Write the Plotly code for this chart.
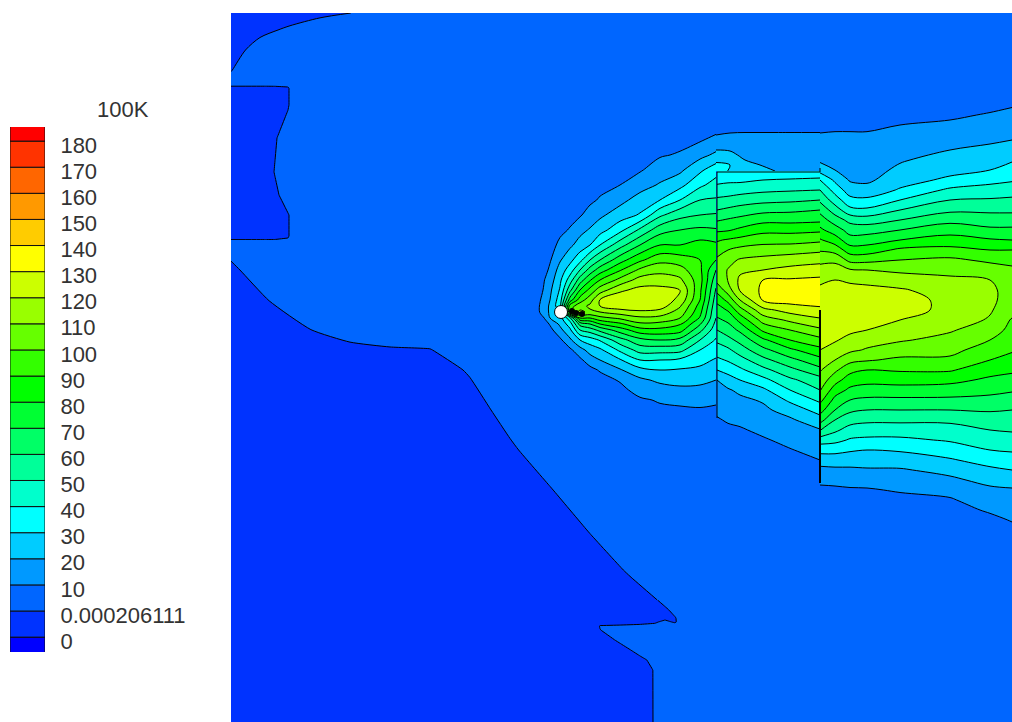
import numpy as np
import plotly.graph_objects as go

# Legend
band_floor = [-20,-10,0,10,20,30,40,50,60,70,80,90,100,110,120,130,140,150,160,170,180]
band_colors = ["#0000ff","#0033ff","#0066ff","#0099ff","#00ccff","#00ffff","#00ffcc","#00ff99","#00ff66","#00ff33",
               "#00ff00","#33ff00","#66ff00","#99ff00","#ccff00","#ffff00","#ffcc00","#ff9900","#ff6600","#ff3300","#ff0000"]
legend_levels = [-10,0,10,20,30,40,50,60,70,80,90,100,110,120,130,140,150,160,170,180]
legend_labels = ["0","0.000206111","10","20","30","40","50","60","70","80","90","100","110","120","130","140","150","160","170","180"]

# Dark corner, upper left (z = display level; 0 stands for the 0.000206111 contour)
corner_x = [231,260,290,320,350,370]
corner_y = [13,30,50,70,80]
corner_z = [[-9,-4.2,-3,-1.2,-0.1,2.5],
            [-6,-1.5,1,3,4.2,5],
            [-2.5,2.5,5.5,7.5,9,9],
            [-0.3,6,9,9,9,9],
            [1.5,9,9,9,9,9]]

# Dark block on the left edge
block_x = [231,265,275,288,290,300]
block_y = [80,86,88,105,138,172,195,215,236,240]
block_z = [[5,5,5,5,5,5],
           [1,1,1,1,5,5],
           [-9,-9,-6,-1,1,5],
           [-9,-9,-6,-1,1,5],
           [-9,-6,-1,5.5,6.5,9],
           [-9,-4.5,0.5,7,8,9],
           [-9,-7,-2,4.5,5.5,9],
           [-9,-9,-7,-0.5,0.5,5.5],
           [-9,-9,-7,-1,1,5],
           [1,1,1,1,1,5]]

# Dark lower-left region
low_x = [231,270,310,350,390,430,470,510,550,590,630,670,710]
low_y = [245,270,300,330,350,370,410,450,490,530,570,600]
low_z = [[2,8,9,9,9,9,9,9,9,9,9,9,9],
         [-1.1,3.7,9,9,9,9,9,9,9,9,9,9,9],
         [-4.3,0.2,4.2,6.7,7.8,8.2,9,9,9,9,9,9,9],
         [-9,-3.6,-0.1,2,2.8,3.2,6,9,9,9,9,9,9],
         [-9,-7,-3.2,-1.3,-0.5,-0.2,3,8,9,9,9,9,9],
         [-9,-9,-6.5,-4.7,-3.8,-3.3,0.7,6.2,9,9,9,9,9],
         [-9,-9,-9,-9,-9,-9,-3,2.7,8.3,9,9,9,9],
         [-9,-9,-9,-9,-9,-9,-6.5,-1.1,4,9,9,9,9],
         [-9,-9,-9,-9,-9,-9,-9,-5.4,-0.4,4.7,9,9,9],
         [-9,-9,-9,-9,-9,-9,-9,-9,-4.7,0.4,5.3,9,9],
         [-9,-9,-9,-9,-9,-9,-9,-9,-9,-4,0.8,5.2,9],
         [-9,-9,-9,-9,-9,-9,-9,-9,-9,-8.5,-3,1.4,7]]

# Bottom spike
spike_x = [231,590,600,620,640,655,665,675,685,710]
spike_y = [600,610,618,622,626,630,640,650,660,670,722]
spike_z = [[-9,-9,-9,-9,-6.5,-1,3,7,9,9],
           [-9,-9,-9,-9,-9,-6,-1.6,2.5,6,9],
           [-9,-5,-3.5,-3.5,-3.5,-1.5,-1,-0.5,4.5,9],
           [-9,-3,-1.7,-1.7,-1.5,-0.5,1,-0.5,3.5,9],
           [-9,-3,0.2,0.5,1,1,2,2,5,9],
           [-9,-4,-0.1,2.5,2.5,5,5,5,5,9],
           [-9,-8,-4,1.4,6,9,9,9,9,9],
           [-9,-9,-8,-2.9,2.5,9,9,9,9,9],
           [-9,-9,-9,-7,-1.7,2,6,9,9,9],
           [-9,-9,-9,-9,-6,1,6,9,9,9],
           [-9,-9,-9,-9,-6.5,1,6,9,9,9]]

# Left plume lobe, listed by column
left_x = [530,540,545,550,560,570,580,590,600,620,640,660,680,700,716]
left_y = [125,140,155,170,185,200,215,230,245,260,270,280,290,300,306,312,318,324,330,340,350,360,370,380,390,400,410,420]
left_cols = [
 [1,1,1,1,1,1,1,1,1,1,1,1,1,2,2,2,1,1,1,1,1,1,1,1,1,1,1,1],
 [1,1,1,1,1,1,1,1,1,1,3,5,7,9.5,10.5,10.5,5,2,1,1,1,1,1,1,1,1,1,1],
 [1,1,1,1,1,1,1,1,1,4,7,10.5,12,14,15,15,11,6,4,2,1,1,1,1,1,1,1,1],
 [1,1,1,1,1,1,1,1,5,9,12,15,18,20,22,22,20,11,7,4,2,1,1,1,1,1,1,1],
 [1,1,1,1,1,1,3,7,13,19,24,28,31,35,36,30,26,22,17,8,4,2,1,1,1,1,1,1],
 [1,1,1,1,1,3,6,11,18,27,35,45,57,75,95,100,47,35,28,18,8,4,2,2,1,1,1,1],
 [1,1,1,1,2,5,9,17,24,37,50,65,80,95,106,112,90,64,50,30,16,8,4,3,2,1,1,1],
 [1,1,1,2,5,8,14,21,30,50,64,79,93,106,112,108,90,70,55,35,24,15,7,4,3,2,1,1],
 [1,1,2,4,7,11,18,26,40,60,75,90,105,120.5,120,110,97,80,63,41,28,20,11,6,4,3,2,1],
 [1,2,4,6,10,17,25,37,56,76,89,103,118,127,126,115,102,88,75,56,42,29,19,11,7,5,3,2],
 [2,4,6,9,16,24,31,52,70,88,102,114,123,128,127,118,108,98,86,67,54,40,27,18,14,8.5,6,4],
 [2,5,9,15,21,30,48,66,80,97,107,115,123,127,125,116,107,97,87,70,54,40,30,22,16,11,8,6],
 [3,7,11,18,27,40,57,70,80,95,104,112,120.5,117,111,106,100,91,84,67,53,38,29,23,18,13,8,6],
 [3,9,17,28,38,50,60,72,84,90,92,94,92,90,86,83,79,71,63,50,40,33,28,22,18,13,9,6],
 [5,13,22,36,44,51,61,71,82,80,70,64,59,55,53,51,50,47,44,39,34,29,25,20,16,12,8,6]]

# Strip above the middle block
top_x = [716,730,745,760,775,790,820]
top_y = [125,135,145,155,165,171]
top_cols = [
 [5,10,16,24,32,35],
 [6,11,17,22,30,29],
 [7,11,15,18,22,24],
 [7,11,14,17,20,22],
 [7,11,13,15,18,20],
 [7,11,13,15,17,18],
 [7,11,13,15,18,20]]

# Middle block
mid_x = [717,728,740,763,790,820]
mid_y = [171,180,190,200,210,220,230,240,250,260,270,280,290,300,310,320,330,340,350,360,370,380,390,400,410,420,430,440,450,460,470]
mid_cols = [
 [32,37,44,52,60,69,78,89,95,102,105,103,93,83,75,68,60,52,45,38,30,20,19,15,12,9,7,6,5,4,3],
 [33,38,45,53,62,71,79,91,100,107,110.5,110.5,105,93,81,72,65,57,48,41,34,25,19,16,13,11,8,6,5,4,3],
 [32,38,46,55,64,73,82,93,103,111,118,122,121,110,96,83,72,63,55,46,38,30,22,18,15,12,9,7,5,4,3],
 [33,40,48,57,67,77,87,96,105,113,120,130,132,131,117,104,92,78,67,57,47,37,28,21,18,15,12,9,7,5,4],
 [32,41,49,58,68,77,87,96,106,115,123,131,135,134,124,112,100,90,78,67,57,48,40,32,24,18.5,15.5,12.4,9.5,7,5],
 [33,42,50,60,70,78,88,98,108,117,125,132,135,134,128,118,108,97,87,77,67,56,50,42,34,26,19.4,15,13,10,8]]

# Right block
right_x = [820,835,850,867,900,950,990,1012]
right_y = [100,115,125,135,150,160,170,180,190,200,210,220,230,240,250,260,270,280,290,300,310,320,330,340,350,360,370,380,390,400,410,420,430,440,450,460,470,480,490,500,510,520,530]
right_cols = [
 [3,6,8,10.5,15,18,26,40,50,58,67,75,82,91,99,107,114,118,122,125,127,127,125,123,120,115,111,106,101,93,84,74,61,45,33,25,17,12,8,6,4,3,2],
 [4,6,8,11,14,17,20,28,36,45,55,65,75,85,96,108,114,120,123,125,127,126,124,121,116,110,102,94,85,77,70,60,52,43,33,25,18,13,8,6,4,3,2],
 [3,5,8,11,13,15,17,19,25,33,43,57,66,74,85,97,111,119,122,125,127,125,122,117,112,103,93,85,78,70,62,54,46,39,31,25,18,13,9,6,4,3,2],
 [3,6,8,11,13,15,16,18,24,32,42,55,66,75,85,97,110,118,122,124,125,124,120,114,109,101,90,83,76,68,60,52,45,38,30,24,19,14,9,7,5,3,2],
 [4,8,10,13,16,19,22,26,31,40,50,60,70,80,92,100,108,115,121,123,123,120,116,111,105,98,91,84,76,68,60,52,45,38,31,25,19,15,11,7,5,3,2],
 [4,8,12,15,20,24,27,32,42,50,58,67,76,84,93,102,107,112,116,118,118,115,111,107,103,98,91,83,75,68,60,52,46,41,35,29,23,18,13,9,7,5,3],
 [5,11,14,17,22,26,30,37,44,51,58,65,72,81,90,98,105,110,112,112,111,109,105,100,95,90,84,78,73,67,61,55,50,45,40,34,28,23,18,15,11,8,5],
 [8,12,15,18,24,29,34,39,45,52,58,65,72,80,90,97,102,105,106,106,104,99,97,94,91,87,82,76,71,66,60,56,51,46,41,36,30,24,19,16,13,10.5,8]]

# Block edges
edge_thin_x = [717,717,820,820]
edge_thin_y = [418,172,172,168]
edge_thick_x = [820,820]
edge_thick_y = [310,483]
hole_x = [561]
hole_y = [312]
knot_x = [572,576,582]
knot_y = [311,313,314]

fig = go.Figure()
scale = [[i/20, c] for i, c in enumerate(band_colors)]

def add_contour(x, y, z, smoothing):
    fig.add_trace(go.Contour(x=x, y=y, z=z, colorscale=scale, showscale=False, autocontour=False,
                             contours=dict(start=-10, end=180, size=10, coloring="fill"),
                             line=dict(color="#000000", width=1, smoothing=smoothing), hoverinfo="skip"))

add_contour(corner_x, corner_y, corner_z, 0.8)
add_contour(block_x, block_y, block_z, 0)
add_contour(low_x, low_y, low_z, 0.5)
add_contour(spike_x, spike_y, spike_z, 0)
add_contour(left_x, left_y, np.array(left_cols).T.tolist(), 1)
add_contour(top_x, top_y, np.array(top_cols).T.tolist(), 1)
add_contour(mid_x, mid_y, np.array(mid_cols).T.tolist(), 1)
add_contour(right_x, right_y, np.array(right_cols).T.tolist(), 1)

fig.add_trace(go.Scatter(x=edge_thin_x, y=edge_thin_y, mode="lines", line=dict(color="#000000", width=1), hoverinfo="skip"))
fig.add_trace(go.Scatter(x=edge_thick_x, y=edge_thick_y, mode="lines", line=dict(color="#000000", width=2), hoverinfo="skip"))
fig.add_trace(go.Scatter(x=knot_x, y=knot_y, mode="markers", marker=dict(size=6, color="#000000"), hoverinfo="skip"))
fig.add_trace(go.Scatter(x=hole_x, y=hole_y, mode="markers",
                         marker=dict(size=13, color="#ffffff", line=dict(color="#000000", width=1)), hoverinfo="skip"))

fig.add_trace(go.Bar(x=[0.5]*len(band_floor), y=[10]*len(band_floor), base=band_floor, width=1,
                     marker=dict(color=band_colors, line=dict(color="#101010", width=1)),
                     xaxis="x2", yaxis="y2", hoverinfo="skip"))

W, H = 1012, 722
FONT = "Liberation Sans"
fig.update_layout(
    width=W, height=H, margin=dict(l=0, r=0, t=0, b=0, autoexpand=False), showlegend=False,
    paper_bgcolor="#ffffff", plot_bgcolor="#0066ff", barmode="overlay",
    xaxis=dict(domain=[231/W, 1], range=[231, 1012], visible=False),
    yaxis=dict(domain=[0, (H-13)/H], range=[722, 13], visible=False),
    xaxis2=dict(domain=[10/W, 45/W], range=[0, 1], visible=False, anchor="y2"),
    yaxis2=dict(domain=[(H-652)/H, (H-127)/H], range=[-15.7, 185.4], anchor="x2", side="right",
                tickmode="array", tickvals=[v-1.5 for v in legend_levels], ticktext=legend_labels,
                ticks="outside", ticklen=10, tickcolor="rgba(0,0,0,0)", showgrid=False, zeroline=False, showline=False,
                tickfont=dict(family=FONT, size=22, color="#333333")),
    annotations=[dict(text="100K", xref="paper", yref="paper", x=123/W, y=(H-110)/H, xanchor="center", yanchor="middle",
                      showarrow=False, font=dict(family=FONT, size=22, color="#333333"))],
)
fig.write_html("out.html", post_script="document.body.style.margin='0';", config={"displayModeBar": False})
